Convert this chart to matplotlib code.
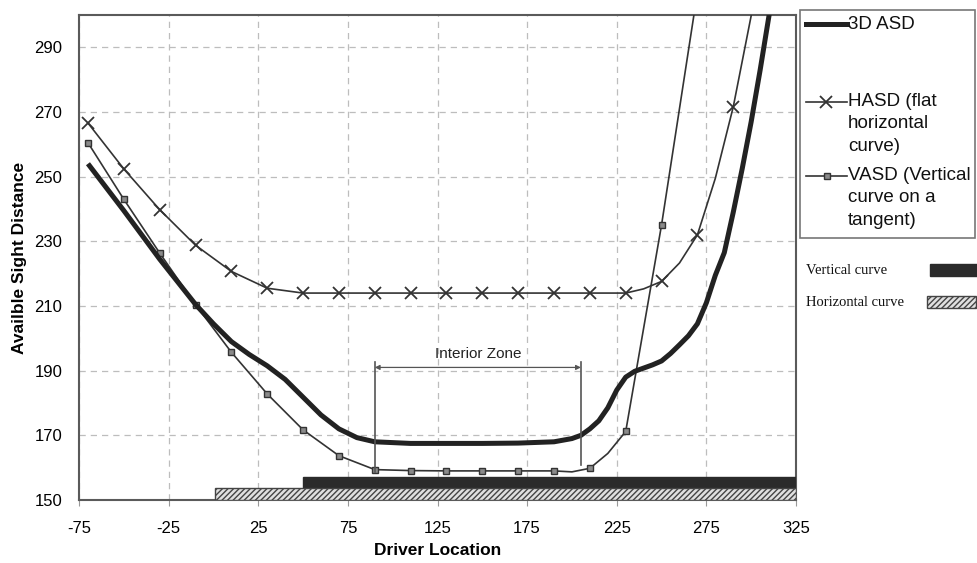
import matplotlib
matplotlib.use("Agg")
import matplotlib.pyplot as plt
from matplotlib.lines import Line2D
from matplotlib.patches import Rectangle

W, H = 977, 563

# --- data ---
asd_x = [-70, -50, -30, -10, 0, 10, 20, 30, 40, 50, 60, 70, 80, 90, 110, 130, 150, 170,
         190, 200, 205, 210, 215, 220, 225, 230, 235, 240, 245, 250, 255, 260, 265, 270,
         275, 280, 285, 290, 295, 300, 305, 310, 315]
asd_y = [254, 239.5, 224.5, 210.5, 204.5, 199, 195, 191.5, 187.3, 181.8, 176.3, 172, 169.3,
         168, 167.5, 167.5, 167.5, 167.6, 168, 169, 170, 172, 174.5, 178.5, 184, 188, 189.8,
         190.8, 191.8, 193, 195.3, 198, 200.8, 204.5, 211, 219.5, 226.5, 239, 252.5, 267,
         283, 300, 318]

hasd_x = [-70, -50, -30, -10, 10, 30, 50, 70, 90, 110, 130, 150, 170, 190, 210, 230, 240,
          250, 260, 270, 280, 290, 310]
hasd_y = [266.6, 252.4, 239.8, 228.8, 220.7, 215.5, 214, 214, 214, 214, 214, 214, 214, 214,
          214, 214, 215.3, 217.6, 223.3, 232, 249.5, 271.6, 328]
hasd_marks = [i for i, x in enumerate(hasd_x) if x not in (240, 260, 280)]

vasd_x = [-70, -50, -30, -10, 10, 30, 50, 70, 90, 110, 130, 150, 170, 190, 200, 210, 220,
          230, 250, 270]
vasd_y = [260.5, 243, 226.4, 210.4, 195.7, 182.8, 171.7, 163.7, 159.4, 159.1, 159, 159, 159,
          159, 158.7, 159.8, 164.4, 171.2, 235.1, 307]
vasd_marks = [i for i, x in enumerate(vasd_x) if x not in (200, 220)]

vertical_curve = (50, 325)
horizontal_curve = (1, 325)
zone_start, zone_end = 90, 205

xticks = list(range(-75, 326, 50))
yticks = list(range(150, 291, 20))

plt.rcParams["font.family"] = ["Liberation Sans", "DejaVu Sans"]
plt.rcParams["axes.unicode_minus"] = False

fig = plt.figure(figsize=(W / 100, H / 100), dpi=100)
ax = fig.add_axes([79 / W, 1 - 500 / H, (796 - 79) / W, (500 - 15) / H])

ink = "#333333"
ax.plot(asd_x, asd_y, color="#222222", lw=3.6, solid_capstyle="butt", zorder=4)
ax.plot(hasd_x, hasd_y, color=ink, lw=1.2, marker="x", ms=8, mew=1.3,
        markevery=hasd_marks, zorder=3)
ax.plot(vasd_x, vasd_y, color=ink, lw=1.2, marker="s", ms=4, mfc="#8a8a8a", mec="#333333",
        mew=1.0, markevery=vasd_marks, zorder=3)

# curve bars along the bottom
ax.barh(155.4, vertical_curve[1] - vertical_curve[0], left=vertical_curve[0], height=3.6,
        color="#2b2b2b", edgecolor="#2b2b2b", zorder=5)
ax.barh(151.8, horizontal_curve[1] - horizontal_curve[0], left=horizontal_curve[0],
        height=3.6, facecolor="#e0e0e0", edgecolor="#444444", hatch="//////", lw=1.0, zorder=5)

# interior zone marker
ax.plot([zone_start, zone_start], [158.8, 192.8], color="#555555", lw=1.2, zorder=5)
ax.plot([zone_end, zone_end], [160.8, 192.8], color="#555555", lw=1.2, zorder=5)
ax.annotate("", xy=(zone_start, 191), xytext=(zone_end, 191),
            arrowprops=dict(arrowstyle="<|-|>", color="#555555", lw=0.9,
                            mutation_scale=7, shrinkA=0, shrinkB=0), zorder=5)
ax.text((zone_start + zone_end) / 2, 195, "Interior Zone", ha="center", va="center",
        fontsize=11, color="#222222")

ax.set_xlim(-75, 325)
ax.set_ylim(150, 300)
ax.set_xticks(xticks)
ax.set_yticks(yticks)
ax.tick_params(axis="x", length=4, color="#999999", labelsize=12, pad=11)
ax.tick_params(axis="y", length=0, labelsize=12, pad=12)
ax.grid(True, color="#bdbdbd", lw=0.9, linestyle=(0, (5, 4)))
ax.set_axisbelow(True)
for s in ax.spines.values():
    s.set_color("#5a5a5a")
    s.set_linewidth(1.5)

ax.set_xlabel("Driver Location", fontsize=12.5, fontweight="bold", labelpad=5)
ax.set_ylabel("Availble Sight Distance", fontsize=12.5, fontweight="bold", labelpad=5)


def fx(x):
    return x / W


def fy(y):
    return 1 - y / H


# legend (drawn in figure pixels)
fig.add_artist(Rectangle((fx(800), fy(238)), (975 - 800) / W, (238 - 10) / H,
                         transform=fig.transFigure, facecolor="white", edgecolor="#777777",
                         lw=1.2))
fig.add_artist(Line2D([fx(806), fx(847)], [fy(24), fy(24)], transform=fig.transFigure,
                      color="#222222", lw=3.6))
fig.add_artist(Line2D([fx(806), fx(847)], [fy(102), fy(102)], transform=fig.transFigure,
                      color=ink, lw=1.2))
fig.add_artist(Line2D([fx(826)], [fy(102)], transform=fig.transFigure, color=ink,
                      marker="x", ms=8, mew=1.3))
fig.add_artist(Line2D([fx(806), fx(847)], [fy(176), fy(176)], transform=fig.transFigure,
                      color=ink, lw=1.2))
fig.add_artist(Line2D([fx(827)], [fy(176)], transform=fig.transFigure, color=ink,
                      marker="s", ms=4, mfc="#8a8a8a", mec="#333333"))
leg_kw = dict(fontsize=13.5, color="#111111", ha="left", va="top", linespacing=1.42)
fig.text(fx(848), fy(16), "3D ASD", **leg_kw)
fig.text(fx(848), fy(93), "HASD (flat\nhorizontal\ncurve)", **leg_kw)
fig.text(fx(848), fy(167), "VASD (Vertical\ncurve on a\ntangent)", **leg_kw)

# curve-type key
key_kw = dict(fontsize=10.5, family=["Liberation Serif", "DejaVu Serif"], color="#111111",
              ha="left", va="center")
fig.text(fx(806), fy(270), "Vertical curve", **key_kw)
fig.text(fx(806), fy(302), "Horizontal curve", **key_kw)
fig.add_artist(Rectangle((fx(930), fy(276)), 47 / W, 12 / H, transform=fig.transFigure,
                         facecolor="#2b2b2b", edgecolor="#2b2b2b"))
fig.add_artist(Rectangle((fx(927), fy(308)), 49 / W, 12 / H, transform=fig.transFigure,
                         facecolor="#e0e0e0", edgecolor="#444444", hatch="//////", lw=1.0))

fig.savefig("out.png", dpi=100)
